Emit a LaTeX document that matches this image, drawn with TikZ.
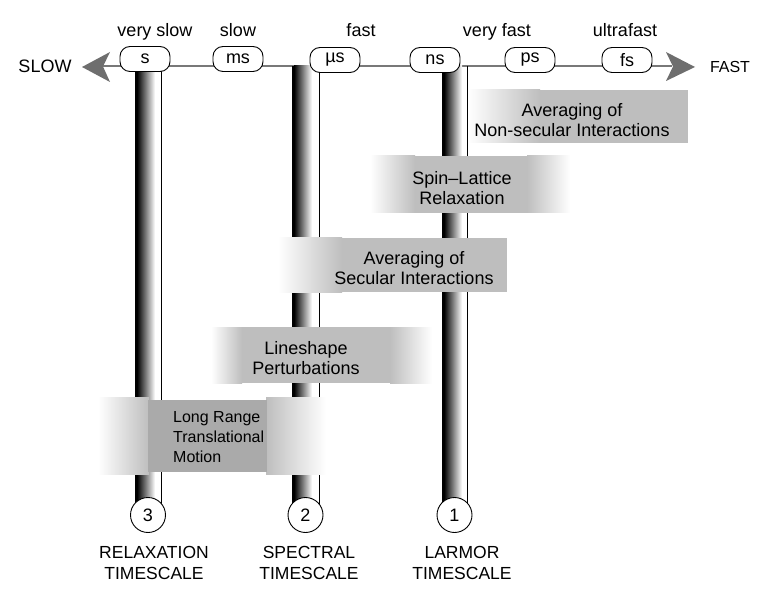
\documentclass[tikz,border=0pt]{standalone}
\usepackage{fontspec}
\setmainfont{Liberation Sans}
\definecolor{boxgray}{RGB}{190,190,190}
\definecolor{innergray}{RGB}{170,170,170}
\definecolor{axisgray}{RGB}{120,120,120}
\definecolor{arrowgray}{RGB}{110,110,110}
\begin{document}
\begin{tikzpicture}[x=1pt,y=-1pt,
  lbl/.style={font=\fontsize{18}{21}\selectfont, inner sep=0pt, anchor=base},
  unit/.style={draw, line width=0.9pt, fill=white, rounded corners=10pt,
    minimum width=50pt, minimum height=25pt, inner sep=0pt,
    font=\fontsize{18}{21}\selectfont},
  num/.style={draw, circle, line width=0.9pt, fill=white, minimum size=35pt,
    inner sep=0pt, font=\fontsize{18}{21}\selectfont},
  boxtxt/.style={align=center, inner sep=0pt, font=\fontsize{18}{20.5}\selectfont},
  bottxt/.style={align=center, inner sep=0pt, font=\fontsize{17.5}{21.5}\selectfont},
]
\useasboundingbox (0,0) rectangle (758,596);
\fill[white] (0,0) rectangle (758,596);

% axis
\coordinate (axL) at (103,66);
\coordinate (axR) at (672,66);
\draw[axisgray, line width=1.6pt] (axL) -- (axR);
\fill[arrowgray] (82,67) -- (110,52) -- (103,66.5) -- (110,82) -- cycle;
\fill[arrowgray] (695,67) -- (666,52) -- (673,66.5) -- (666,81) -- cycle;

% timescale bars
\foreach \xl/\xr in {135/161, 292/319, 442/467} {
  \fill[black] (\xl,66) rectangle (\xl+2.5,512);
  \shade[left color=black, right color=white] (\xl+2,66) rectangle (\xl+20,512);
  \draw[line width=0.9pt] (\xr,66) -- (\xr,512);
}

% unit nodes
\node[unit] (s)  at (145,59) {s};
\node[unit] (ms) at (238,59) {ms};
\node[unit] (us) at (335,60) {µs};
\node[unit] (ns) at (435,60) {ns};
\node[unit] (ps) at (530,60) {ps};
\node[unit] (fs) at (627,60) {fs};

% speed labels
\node[lbl] (l1) at (155,37) {very slow};
\node[lbl] (l2) at (238,37) {slow};
\node[lbl] (l3) at (361,37) {fast};
\node[lbl] (l4) at (497,37) {very fast};
\node[lbl] (l5) at (625,37) {ultrafast};
\node[lbl] (slow) at (45,73) {SLOW};
\node[lbl, font=\fontsize{16}{20}\selectfont] (fast) at (730,73) {FAST};

% process boxes
% Non-secular
\shade[left color=white, right color=boxgray] (468,90) rectangle (540,143);
\fill[boxgray] (539.5,90) rectangle (688,143);
\node[boxtxt] (nonsec) at (572,120) {Averaging of\\Non-secular Interactions};
% Spin-lattice
\shade[left color=white, right color=boxgray] (370,156) rectangle (415,213);
\fill[boxgray] (414.5,156) rectangle (527.5,213);
\shade[left color=boxgray, right color=white] (527,156) rectangle (570,213);
\node[boxtxt] (spin) at (462,188) {Spin--Lattice\\Relaxation};
% Secular
\shade[left color=white, right color=boxgray] (278,238) rectangle (342,292);
\fill[boxgray] (341.5,238) rectangle (507,292);
\node[boxtxt] (sec) at (414,268) {Averaging of\\Secular Interactions};
% Lineshape
\shade[left color=white, right color=boxgray] (211,327) rectangle (242,383);
\fill[boxgray] (241.5,327) rectangle (390.5,383);
\shade[left color=boxgray, right color=white] (390,327) rectangle (432,383);
\node[boxtxt] (line) at (306,358) {Lineshape\\Perturbations};
% Long range
\shade[left color=white, right color=boxgray] (98,397) rectangle (149,474);
\shade[left color=boxgray, right color=white] (266,397) rectangle (326,474);
\fill[innergray] (148,400) rectangle (267,472);
\node[align=left, inner sep=0pt, font=\fontsize{16}{20}\selectfont, anchor=west] (lr) at (173,437) {Long Range\\Translational\\Motion};

% numbered circles
\node[num] (c3) at (148,515) {3};
\node[num] (c2) at (305.5,515) {2};
\node[num] (c1) at (454.5,515) {1};

% bottom labels
\node[bottxt] (t3) at (154,563) {RELAXATION\\TIMESCALE};
\node[bottxt] (t2) at (309,563) {SPECTRAL\\TIMESCALE};
\node[bottxt] (t1) at (462,563) {LARMOR\\TIMESCALE};
\end{tikzpicture}
\end{document}
